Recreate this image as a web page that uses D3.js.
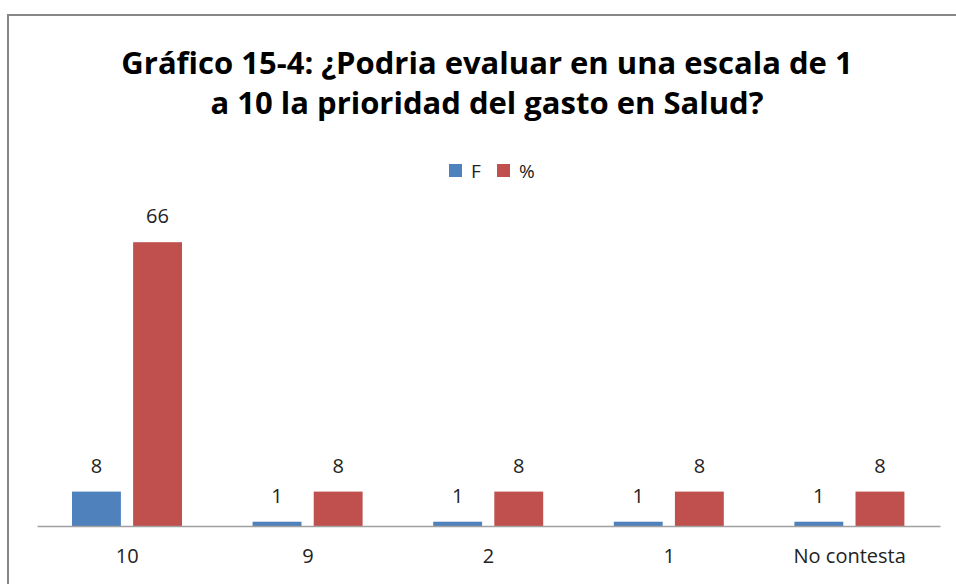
<!DOCTYPE html>
<html lang="es">
<head>
<meta charset="UTF-8">
<title>Gráfico 15-4</title>
<style>
  body { margin: 0; background: #fff; }
  svg { display: block; font-family: "Open Sans", Lato, sans-serif; }
</style>
</head>
<body>
<script src="https://d3js.org/d3.v7.min.js"></script>
<script>
const categories = ['10', '9', '2', '1', 'No contesta'];
const seriesNames = ['F', '%'];
const valuesF = [8, 1, 1, 1, 1];
const valuesPct = [66, 8, 8, 8, 8];
const titleLines = ['Gráfico 15-4: ¿Podria evaluar en una escala de 1', 'a 10 la prioridad del gasto en Salud?'];

const width = 956, height = 584;
const colors = ['#4F81BD', '#C0504D'];

const svg = d3.select('body').append('svg')
    .attr('width', width)
    .attr('height', height);

// marco del gráfico
svg.append('rect')
    .attr('x', 8).attr('y', 15)
    .attr('width', 960).attr('height', 600)
    .attr('fill', '#fff')
    .attr('stroke', '#868686')
    .attr('stroke-width', 2);

// título
svg.append('text')
    .attr('text-anchor', 'middle')
    .attr('font-size', 31)
    .attr('font-weight', 'bold')
    .attr('fill', '#000')
    .selectAll('tspan')
    .data(titleLines)
    .enter().append('tspan')
    .attr('x', 487)
    .attr('y', (d, i) => 74 + i * 40)
    .text(d => d);

// leyenda
const legend = svg.append('g').attr('transform', 'translate(449,164)');
const legendX = [0, 48];
legend.selectAll('rect')
    .data(seriesNames)
    .enter().append('rect')
    .attr('x', (d, i) => legendX[i])
    .attr('y', 0)
    .attr('width', 13).attr('height', 13)
    .attr('fill', (d, i) => colors[i]);
legend.selectAll('text')
    .data(seriesNames)
    .enter().append('text')
    .attr('x', (d, i) => legendX[i] + 22)
    .attr('y', 14)
    .attr('font-size', 19)
    .attr('fill', '#222')
    .text(d => d);

// escalas
const x0 = d3.scaleBand().domain(categories).range([37, 940]);
const x1 = d3.scaleBand().domain(seriesNames).range([35, 145]).paddingInner(0.2);
const y = d3.scaleLinear().domain([0, 70]).range([526, 225]);

const data = categories.map((c, i) => ({ cat: c, vals: [valuesF[i], valuesPct[i]] }));

const groups = svg.selectAll('g.grp')
    .data(data)
    .enter().append('g')
    .attr('class', 'grp')
    .attr('transform', d => 'translate(' + x0(d.cat) + ',0)');

groups.selectAll('rect')
    .data(d => d.vals.map((v, i) => ({ key: seriesNames[i], v: v, i: i })))
    .enter().append('rect')
    .attr('x', d => x1(d.key))
    .attr('y', d => y(d.v))
    .attr('width', x1.bandwidth())
    .attr('height', d => y(0) - y(d.v))
    .attr('fill', d => colors[d.i]);

groups.selectAll('text')
    .data(d => d.vals.map((v, i) => ({ key: seriesNames[i], v: v })))
    .enter().append('text')
    .attr('x', d => x1(d.key) + x1.bandwidth() / 2)
    .attr('y', d => y(d.v) - 19)
    .attr('text-anchor', 'middle')
    .attr('font-size', 20)
    .attr('fill', '#222')
    .text(d => d.v);

// eje x
const xAxis = svg.append('g')
    .attr('transform', 'translate(0,' + y(0) + ')')
    .call(d3.axisBottom(x0).tickSize(0).tickPadding(23));
xAxis.select('.domain').attr('stroke', '#A0A0A0').attr('stroke-width', 1.5);
xAxis.selectAll('text')
    .attr('font-size', 20)
    .attr('font-family', '"Open Sans", Lato, sans-serif')
    .attr('fill', '#222');
</script>
</body>
</html>
